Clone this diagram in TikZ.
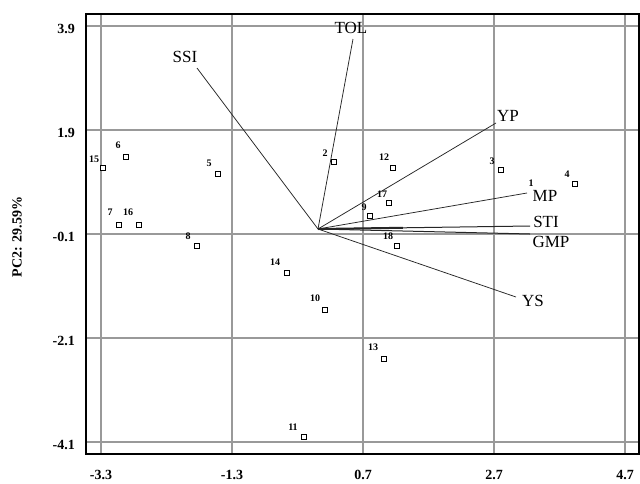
\documentclass[tikz,border=0pt]{standalone}
\usepackage{fontspec}
\setmainfont{Liberation Serif}
\usetikzlibrary{calc}
\begin{document}
\begin{tikzpicture}[x=1pt,y=-1pt,
  gridline/.style={draw=black!40, line width=1.2pt},
  frameline/.style={draw=black, line width=1.3pt},
  ticklab/.style={font=\bfseries\fontsize{14}{14}\selectfont, inner sep=0pt},
  vecline/.style={draw=black!85, line width=0.75pt},
  veclab/.style={font=\fontsize{17}{17}\selectfont, inner sep=0pt},
  genpt/.style={rectangle, draw=black, fill=white, line width=0.8pt, minimum size=5pt, inner sep=0pt},
  genlab/.style={font=\bfseries\fontsize{10}{10}\selectfont, inner sep=0pt}]
\useasboundingbox (0,0) rectangle (640,483);
\fill[white] (0,0) rectangle (640,483);
% grid
\foreach \gx in {101,232,363,494,625} \draw[gridline] (\gx,14) -- (\gx,454);
\foreach \gy in {26,130,234,338,442} \draw[gridline] (86,\gy) -- (639,\gy);
\draw[frameline] (86,14) rectangle (639,454);
% tick labels
\foreach \gy/\t in {26/3.9,130/1.9,234/-0.1,338/-2.1,442/-4.1}
  \node[ticklab, anchor=east] (ty\gy) at (75,\gy+3) {\t};
\foreach \gx/\t in {101/-3.3,232/-1.3,363/0.7,494/2.7,625/4.7}
  \node[ticklab] (tx\gx) at (\gx,475) {\t};
\node[ticklab, rotate=90] (ylab) at (17,237) {PC2: 29.59\%};
% vectors
\coordinate (O) at (318,229);
\coordinate (eTOL) at (353,39);
\coordinate (eSSI) at (197,68);
\coordinate (eYP) at (496,123);
\coordinate (eMP) at (527,193);
\coordinate (eSTI) at (530,226);
\coordinate (eGMP) at (530,234);
\coordinate (eYS) at (516,297);
\foreach \e in {TOL,SSI,YP,MP,YS} \draw[vecline] (O) -- (e\e);
\draw[vecline, line width=1pt] (O) -- (eSTI);
\draw[vecline, line width=1pt] (O) -- (eGMP);
\draw[vecline, line width=2pt] (O) -- ($(O)!0.4!(eSTI)$);
\node[veclab] (TOL) at (351,28) {TOL};
\node[veclab] (SSI) at (185,57) {SSI};
\node[veclab] (YP) at (508,116) {YP};
\node[veclab] (MP) at (545,196) {MP};
\node[veclab] (STI) at (546,222) {STI};
\node[veclab] (GMP) at (551,242) {GMP};
\node[veclab] (YS) at (533,301) {YS};
% genotypes
\foreach \n/\px/\py/\lx/\ly in {15/103/168/94/159, 6/126/157/118/145, 5/218/174/209/163,
  7/119/225/110/212, 16/139/225/128/212, 8/197/246/188/236, 2/334/162/325/153,
  12/393/168/384/157, 17/389/203/382/194, 9/370/216/364/207, 18/397/246/388/236,
  3/501/170/492/161, 4/575/184/567/174, 14/287/273/275/262, 10/325/310/315/298,
  13/384/359/373/347, 11/304/437/293/427}
{
  \node[genpt] (p\n) at (\px,\py) {};
  \node[genlab] (l\n) at (\lx,\ly) {\n};
}
\node[genlab] (l1) at (531,183) {1};
\end{tikzpicture}
\end{document}
